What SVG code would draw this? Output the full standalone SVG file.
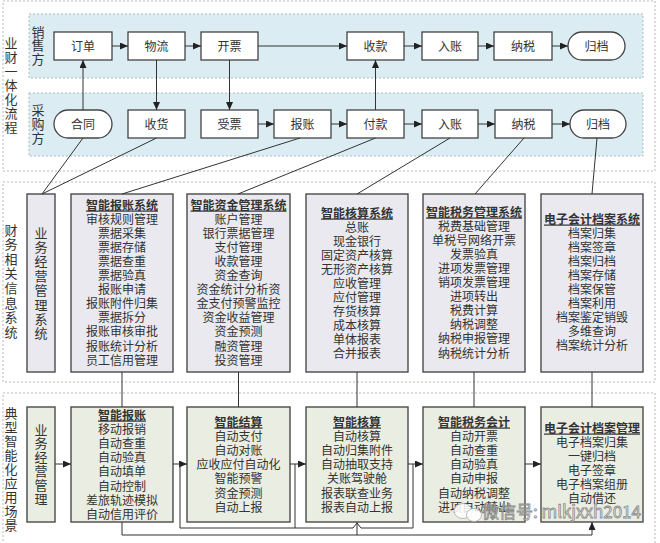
<svg xmlns="http://www.w3.org/2000/svg" width="660" height="543" viewBox="0 0 660 543">
<defs>
<style>
.frame{fill:none;stroke:#b8b8b8;stroke-width:1;stroke-dasharray:2,2}
.band{fill:#dbedf3;stroke:#b0bcc0;stroke-width:1;stroke-dasharray:2,2}
.n{fill:#fff;stroke:#444;stroke-width:1.3}
.mb{fill:#e9e9ef;stroke:#4a4a4a;stroke-width:1.4}
.bb{fill:#eaede1;stroke:#4a4a4a;stroke-width:1.4}
.t{font-family:"Noto Sans CJK SC","Noto Sans",sans-serif;font-size:12px;fill:#333;text-anchor:middle}
.lb{font-family:"Noto Sans CJK SC","Noto Sans",sans-serif;font-size:13px;fill:#333;text-anchor:middle}
.ttl{font-weight:bold;text-decoration:underline}
.c{fill:none;stroke:#333;stroke-width:1}
.a{marker-end:url(#ah)}
.wm{font-family:"Noto Sans CJK SC","Noto Sans",sans-serif;font-size:17px;fill:#fff;fill-opacity:0.55;stroke:#8a8a8a;stroke-width:0.8}
</style>
<marker id="ah" markerWidth="8" markerHeight="7" refX="8" refY="3.5" orient="auto" markerUnits="userSpaceOnUse">
<path d="M0,0 L8,3.5 L0,7 z" fill="#222"/>
</marker>
</defs>
<rect width="660" height="543" fill="#fff"/>
<g id="frames">
<rect x="3" y="1" width="652" height="170" class="frame"/>
<rect x="3" y="182" width="652" height="200" class="frame"/>
<rect x="3" y="393" width="652" height="160" class="frame"/>
<rect x="29" y="14" width="614" height="64" class="band"/>
<rect x="29" y="93" width="614" height="63" class="band"/>
</g>
<g id="section-labels">
<text class="lb" x="11" y="47.5"><tspan x="11">业</tspan><tspan x="11" dy="14">财</tspan><tspan x="11" dy="14">一</tspan><tspan x="11" dy="14">体</tspan><tspan x="11" dy="14">化</tspan><tspan x="11" dy="14">流</tspan><tspan x="11" dy="14">程</tspan></text>
<text class="lb" x="38" y="36.5"><tspan x="38">销</tspan><tspan x="38" dy="13.5">售</tspan><tspan x="38" dy="13.5">方</tspan></text>
<text class="lb" x="38" y="114.5"><tspan x="38">采</tspan><tspan x="38" dy="14">购</tspan><tspan x="38" dy="14">方</tspan></text>
<text class="lb" x="11" y="234.5"><tspan x="11">财</tspan><tspan x="11" dy="14.6">务</tspan><tspan x="11" dy="14.6">相</tspan><tspan x="11" dy="14.6">关</tspan><tspan x="11" dy="14.6">信</tspan><tspan x="11" dy="14.6">息</tspan><tspan x="11" dy="14.6">系</tspan><tspan x="11" dy="14.6">统</tspan></text>
<text class="lb" x="11" y="417.5"><tspan x="11">典</tspan><tspan x="11" dy="14">型</tspan><tspan x="11" dy="14">智</tspan><tspan x="11" dy="14">能</tspan><tspan x="11" dy="14">化</tspan><tspan x="11" dy="14">应</tspan><tspan x="11" dy="14">用</tspan><tspan x="11" dy="14">场</tspan><tspan x="11" dy="14">景</tspan></text>
</g>
<g id="sales-nodes">
<g id="s-order"><rect class="n" x="54" y="32" width="58" height="28"/><text class="t" x="83" y="50.5">订单</text></g>
<g id="s-logistics"><rect class="n" x="128" y="32" width="57" height="28"/><text class="t" x="156.5" y="50.5">物流</text></g>
<g id="s-invoice"><rect class="n" x="201" y="32" width="57" height="28"/><text class="t" x="229.5" y="50.5">开票</text></g>
<g id="s-receipt"><rect class="n" x="347" y="32" width="57" height="28"/><text class="t" x="375.5" y="50.5">收款</text></g>
<g id="s-post"><rect class="n" x="422" y="32" width="56" height="28"/><text class="t" x="450" y="50.5">入账</text></g>
<g id="s-tax"><rect class="n" x="494" y="32" width="58" height="28"/><text class="t" x="523" y="50.5">纳税</text></g>
<g id="s-archive"><rect class="n" x="568" y="32" width="57" height="28" rx="14"/><text class="t" x="596.5" y="50.5">归档</text></g>
</g>
<g id="purchase-nodes">
<g id="p-contract"><rect class="n" x="54" y="110" width="58" height="28" rx="14"/><text class="t" x="83" y="128.5">合同</text></g>
<g id="p-goods"><rect class="n" x="128" y="110" width="57" height="28"/><text class="t" x="156.5" y="128.5">收货</text></g>
<g id="p-invoice"><rect class="n" x="201" y="110" width="57" height="28"/><text class="t" x="229.5" y="128.5">受票</text></g>
<g id="p-expense"><rect class="n" x="274" y="110" width="57" height="28"/><text class="t" x="302.5" y="128.5">报账</text></g>
<g id="p-pay"><rect class="n" x="347" y="110" width="57" height="28"/><text class="t" x="375.5" y="128.5">付款</text></g>
<g id="p-post"><rect class="n" x="422" y="110" width="56" height="28"/><text class="t" x="450" y="128.5">入账</text></g>
<g id="p-tax"><rect class="n" x="495" y="110" width="57" height="28"/><text class="t" x="523.5" y="128.5">纳税</text></g>
<g id="p-archive"><rect class="n" x="570" y="110" width="56" height="28" rx="14"/><text class="t" x="598" y="128.5">归档</text></g>
</g>
<g id="systems">
<g id="m-biz"><rect class="mb" x="27" y="194" width="28" height="178"/>
<text class="lb" x="41" y="237.5"><tspan x="41">业</tspan><tspan x="41" dy="14.4">务</tspan><tspan x="41" dy="14.4">经</tspan><tspan x="41" dy="14.4">营</tspan><tspan x="41" dy="14.4">管</tspan><tspan x="41" dy="14.4">理</tspan><tspan x="41" dy="14.4">系</tspan><tspan x="41" dy="14.4">统</tspan></text></g>
<g id="m-expense"><rect class="mb" x="71" y="194" width="102" height="178"/>
<text class="t" y="209.5"><tspan x="122" class="ttl">智能报账系统</tspan><tspan x="122" dy="14.1">审核规则管理</tspan><tspan x="122" dy="14.1">票据采集</tspan><tspan x="122" dy="14.1">票据存储</tspan><tspan x="122" dy="14.1">票据查重</tspan><tspan x="122" dy="14.1">票据验真</tspan><tspan x="122" dy="14.1">报账申请</tspan><tspan x="122" dy="14.1">报账附件归集</tspan><tspan x="122" dy="14.1">票据拆分</tspan><tspan x="122" dy="14.1">报账审核审批</tspan><tspan x="122" dy="14.1">报账统计分析</tspan><tspan x="122" dy="14.1">员工信用管理</tspan></text></g>
<g id="m-fund"><rect class="mb" x="187" y="194" width="103" height="178"/>
<text class="t" y="209.5"><tspan x="238.5" class="ttl">智能资金管理系统</tspan><tspan x="238.5" dy="14.1">账户管理</tspan><tspan x="238.5" dy="14.1">银行票据管理</tspan><tspan x="238.5" dy="14.1">支付管理</tspan><tspan x="238.5" dy="14.1">收款管理</tspan><tspan x="238.5" dy="14.1">资金查询</tspan><tspan x="238.5" dy="14.1">资金统计分析资</tspan><tspan x="238.5" dy="14.1">金支付预警监控</tspan><tspan x="238.5" dy="14.1">资金收益管理</tspan><tspan x="238.5" dy="14.1">资金预测</tspan><tspan x="238.5" dy="14.1">融资管理</tspan><tspan x="238.5" dy="14.1">投资管理</tspan></text></g>
<g id="m-acct"><rect class="mb" x="306" y="194" width="102" height="178"/>
<text class="t" y="217.5"><tspan x="357" class="ttl">智能核算系统</tspan><tspan x="357" dy="14">总账</tspan><tspan x="357" dy="14">现金银行</tspan><tspan x="357" dy="14">固定资产核算</tspan><tspan x="357" dy="14">无形资产核算</tspan><tspan x="357" dy="14">应收管理</tspan><tspan x="357" dy="14">应付管理</tspan><tspan x="357" dy="14">存货核算</tspan><tspan x="357" dy="14">成本核算</tspan><tspan x="357" dy="14">单体报表</tspan><tspan x="357" dy="14">合并报表</tspan></text></g>
<g id="m-tax"><rect class="mb" x="423" y="194" width="102" height="178"/>
<text class="t" y="216.5"><tspan x="474" class="ttl">智能税务管理系统</tspan><tspan x="474" dy="14.1">税费基础管理</tspan><tspan x="474" dy="14.1">单税号网络开票</tspan><tspan x="474" dy="14.1">发票验真</tspan><tspan x="474" dy="14.1">进项发票管理</tspan><tspan x="474" dy="14.1">销项发票管理</tspan><tspan x="474" dy="14.1">进项转出</tspan><tspan x="474" dy="14.1">税费计算</tspan><tspan x="474" dy="14.1">纳税调整</tspan><tspan x="474" dy="14.1">纳税申报管理</tspan><tspan x="474" dy="14.1">纳税统计分析</tspan></text></g>
<g id="m-archive"><rect class="mb" x="541" y="194" width="102" height="178"/>
<text class="t" y="223.5"><tspan x="592" class="ttl">电子会计档案系统</tspan><tspan x="592" dy="14.1">档案归集</tspan><tspan x="592" dy="14.1">档案签章</tspan><tspan x="592" dy="14.1">档案归档</tspan><tspan x="592" dy="14.1">档案存储</tspan><tspan x="592" dy="14.1">档案保管</tspan><tspan x="592" dy="14.1">档案利用</tspan><tspan x="592" dy="14.1">档案鉴定销毁</tspan><tspan x="592" dy="14.1">多维查询</tspan><tspan x="592" dy="14.1">档案统计分析</tspan></text></g>
</g>
<g id="scenarios">
<g id="b-biz"><rect class="bb" x="27" y="407" width="28" height="115"/>
<text class="lb" x="41" y="434.5"><tspan x="41">业</tspan><tspan x="41" dy="13.9">务</tspan><tspan x="41" dy="13.9">经</tspan><tspan x="41" dy="13.9">营</tspan><tspan x="41" dy="13.9">管</tspan><tspan x="41" dy="13.9">理</tspan></text></g>
<g id="b-expense"><rect class="bb" x="71" y="407" width="102" height="115"/>
<text class="t" y="419.5"><tspan x="122" class="ttl">智能报账</tspan><tspan x="122" dy="14.2">移动报销</tspan><tspan x="122" dy="14.2">自动查重</tspan><tspan x="122" dy="14.2">自动验真</tspan><tspan x="122" dy="14.2">自动填单</tspan><tspan x="122" dy="14.2">自动控制</tspan><tspan x="122" dy="14.2">差旅轨迹模拟</tspan><tspan x="122" dy="14.2">自动信用评价</tspan></text></g>
<g id="b-settle"><rect class="bb" x="187" y="407" width="103" height="115"/>
<text class="t" y="426.5"><tspan x="238.5" class="ttl">智能结算</tspan><tspan x="238.5" dy="14.2">自动支付</tspan><tspan x="238.5" dy="14.2">自动对账</tspan><tspan x="238.5" dy="14.2">应收应付自动化</tspan><tspan x="238.5" dy="14.2">智能预警</tspan><tspan x="238.5" dy="14.2">资金预测</tspan><tspan x="238.5" dy="14.2">自动上报</tspan></text></g>
<g id="b-acct"><rect class="bb" x="306" y="407" width="102" height="115"/>
<text class="t" y="426.5"><tspan x="357" class="ttl">智能核算</tspan><tspan x="357" dy="14.2">自动核算</tspan><tspan x="357" dy="14.2">自动归集附件</tspan><tspan x="357" dy="14.2">自动抽取支持</tspan><tspan x="357" dy="14.2">关账驾驶舱</tspan><tspan x="357" dy="14.2">报表联查业务</tspan><tspan x="357" dy="14.2">报表自动上报</tspan></text></g>
<g id="b-tax"><rect class="bb" x="423" y="407" width="102" height="115"/>
<text class="t" y="426.5"><tspan x="474" class="ttl">智能税务会计</tspan><tspan x="474" dy="14.2">自动开票</tspan><tspan x="474" dy="14.2">自动查重</tspan><tspan x="474" dy="14.2">自动验真</tspan><tspan x="474" dy="14.2">自动申报</tspan><tspan x="474" dy="14.2">自动纳税调整</tspan><tspan x="474" dy="14.2">进项自动转出</tspan></text></g>
<g id="b-archive"><rect class="bb" x="541" y="407" width="102" height="115"/>
<text class="t" y="432.5"><tspan x="592" class="ttl">电子会计档案管理</tspan><tspan x="592" dy="14">电子档案归集</tspan><tspan x="592" dy="14">一键归档</tspan><tspan x="592" dy="14">电子签章</tspan><tspan x="592" dy="14">电子档案组册</tspan><tspan x="592" dy="14">自动借还</tspan></text></g>
</g>
<g id="connectors">
<path class="c a" d="M112,46 H128"/>
<path class="c a" d="M185,46 H201"/>
<path class="c a" d="M258,46 H347"/>
<path class="c a" d="M404,46 H422"/>
<path class="c a" d="M478,46 H494"/>
<path class="c a" d="M552,46 H568"/>
<path class="c a" d="M258,124 H274"/>
<path class="c a" d="M331,124 H347"/>
<path class="c a" d="M404,124 H422"/>
<path class="c a" d="M478,124 H495"/>
<path class="c a" d="M552,124 H570"/>
<path class="c a" d="M83,110 V60"/>
<path class="c a" d="M156.5,60 V110"/>
<path class="c a" d="M229.5,60 V110"/>
<path class="c a" d="M375.5,110 V60"/>
<path class="c" d="M83,138 L42,194"/>
<path class="c" d="M156.5,138 L42,194"/>
<path class="c" d="M300,138 L122,194"/>
<path class="c" d="M375.5,138 L238,194"/>
<path class="c" d="M450,138 L357,194"/>
<path class="c" d="M524,138 L475,194"/>
<path class="c" d="M597,138 L592,194"/>
<path class="c" d="M122,372 V407"/>
<path class="c" d="M238.5,372 V407"/>
<path class="c" d="M357,372 V407"/>
<path class="c" d="M474,372 V407"/>
<path class="c" d="M592,372 V407"/>
<path class="c a" d="M55,464 H71"/>
<path class="c a" d="M173,464 H187"/>
<path class="c a" d="M290,464 H306"/>
<path class="c a" d="M408,464 H423"/>
<path class="c a" d="M525,464 H541"/>
<path class="c" d="M180,464 V528 H353 L357,523 L361,528 H413 V464"/>
<path class="c" d="M295,528 V464"/>
<path class="c" d="M357,522 V535"/>
<path class="c a" d="M122,522 V535 H592 V522"/>
</g>
<g id="watermark">
<ellipse cx="463" cy="511" rx="9" ry="7.5" fill="#fff" fill-opacity="0.85" stroke="#aaa" stroke-width="0.8"/>
<ellipse cx="474" cy="515" rx="7.5" ry="6.5" fill="#fff" fill-opacity="0.85" stroke="#aaa" stroke-width="0.8"/>
<text class="wm" x="482" y="518">微信号: mlkjxxh2014</text>
</g>
</svg>
